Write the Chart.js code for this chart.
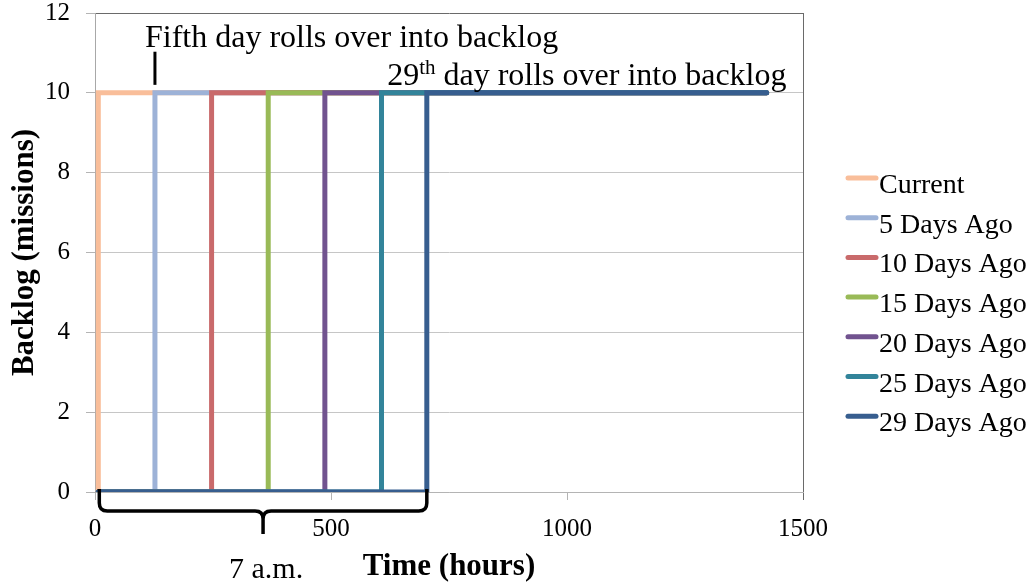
<!DOCTYPE html>
<html>
<head>
<meta charset="utf-8">
<script src="https://cdn.jsdelivr.net/npm/chart.js@4.4.1/dist/chart.umd.min.js"></script>
<style>
  html, body { margin: 0; padding: 0; background: #ffffff; }
  canvas { display: block; }
</style>
</head>
<body>
<canvas id="chart" width="1032" height="586"></canvas>
<script>
// Backlog of missions over time, one step curve per reporting day
const seriesNames = ['Current', '5 Days Ago', '10 Days Ago', '15 Days Ago', '20 Days Ago', '25 Days Ago', '29 Days Ago'];
const seriesColors = ['#F9BE9A', '#9DB2D7', '#C96A6B', '#99BA57', '#71538F', '#32849A', '#375E8F'];
// hour at which each curve steps up to the full backlog
const rolloverHours = [7, 127, 247, 367, 487, 607, 703];
const startHour = 7;
const endHour = 1423;
const backlogEmpty = 0;
const backlogFull = 10;
const xTicks = [0, 500, 1000, 1500];
const yTicks = [0, 2, 4, 6, 8, 10, 12];

const SERIF = '"Liberation Serif", "Times New Roman", serif';
Chart.defaults.font.family = SERIF;
Chart.defaults.color = '#000000';

const datasets = seriesNames.map((name, i) => ({
  label: name,
  data: [
    { x: startHour, y: backlogEmpty },
    { x: rolloverHours[i], y: backlogEmpty },
    { x: rolloverHours[i], y: backlogFull },
    { x: endHour, y: backlogFull }
  ],
  borderColor: seriesColors[i],
  backgroundColor: seriesColors[i],
  borderWidth: 5,
  borderCapStyle: 'round',
  borderJoinStyle: 'miter',
  pointRadius: 0,
  fill: false,
  tension: 0,
  order: seriesNames.length - 1 - i
}));

// Legend at the right: short line swatch followed by the series name
const sideLegend = {
  id: 'sideLegend',
  afterDraw(chart) {
    const ctx = chart.ctx;
    ctx.save();
    ctx.font = '28px ' + SERIF;
    ctx.textBaseline = 'alphabetic';
    ctx.textAlign = 'left';
    chart.data.datasets.forEach((ds, i) => {
      const y = 178 + i * 39.7;
      ctx.strokeStyle = ds.borderColor;
      ctx.lineWidth = 5;
      ctx.lineCap = 'round';
      ctx.beginPath();
      ctx.moveTo(848, y);
      ctx.lineTo(876, y);
      ctx.stroke();
      ctx.fillStyle = '#000';
      ctx.fillText(ds.label, 879, y + 15);
    });
    ctx.restore();
  }
};

// Notes on the plot: rollover callouts and the 7 a.m. brace
const notes = {
  id: 'notes',
  afterDraw(chart) {
    const ctx = chart.ctx;
    const xs = chart.scales.x, ys = chart.scales.y;
    ctx.save();
    ctx.fillStyle = '#000';
    ctx.strokeStyle = '#000';

    // fifth day callout
    const mx = xs.getPixelForValue(rolloverHours[1]);
    ctx.lineWidth = 3;
    ctx.lineCap = 'butt';
    ctx.beginPath();
    ctx.moveTo(mx, ys.getPixelForValue(10.2));
    ctx.lineTo(mx, ys.getPixelForValue(11.03));
    ctx.stroke();
    ctx.font = '32px ' + SERIF;
    ctx.textAlign = 'left';
    ctx.textBaseline = 'alphabetic';
    ctx.fillText('Fifth day rolls over into backlog', mx - 10, ys.getPixelForValue(11.15));

    // 29th day callout
    const base = ys.getPixelForValue(10.2);
    const bigFont = '32px ' + SERIF, supFont = '21px ' + SERIF;
    ctx.font = bigFont;
    const wNum = ctx.measureText('29').width;
    const wRest = ctx.measureText(' day rolls over into backlog').width;
    ctx.font = supFont;
    const wSup = ctx.measureText('th').width;
    let tx = xs.getPixelForValue(1042) - (wNum + wSup + wRest) / 2;
    ctx.font = bigFont;
    ctx.fillText('29', tx, base);
    tx += wNum;
    ctx.font = supFont;
    ctx.fillText('th', tx, base - 11);
    tx += wSup;
    ctx.font = bigFont;
    ctx.fillText(' day rolls over into backlog', tx, base);

    // brace under the first 29 days
    const xL = xs.getPixelForValue(startHour) + 1;
    const xR = xs.getPixelForValue(rolloverHours[6]);
    const xM = (xL + xR) / 2;
    const y0 = ys.getPixelForValue(0);
    const yb = y0 + 19, yTip = y0 + 42, r = 8;
    ctx.lineWidth = 3.5;
    ctx.lineJoin = 'round';
    ctx.lineCap = 'butt';
    ctx.beginPath();
    ctx.moveTo(xL, y0 - 3);
    ctx.lineTo(xL, yb - r);
    ctx.quadraticCurveTo(xL, yb, xL + r, yb);
    ctx.lineTo(xM - r, yb);
    ctx.quadraticCurveTo(xM, yb, xM, yb + r);
    ctx.lineTo(xM, yTip);
    ctx.moveTo(xM, yb + r);
    ctx.quadraticCurveTo(xM, yb, xM + r, yb);
    ctx.lineTo(xR - r, yb);
    ctx.quadraticCurveTo(xR, yb, xR, yb - r);
    ctx.lineTo(xR, y0 - 3);
    ctx.stroke();

    ctx.font = '30px ' + SERIF;
    ctx.textAlign = 'center';
    ctx.fillText('7 a.m.', xM + 3, 578);
    ctx.restore();
  }
};

new Chart(document.getElementById('chart'), {
  type: 'line',
  data: { datasets },
  plugins: [notes, sideLegend],
  options: {
    responsive: false,
    animation: false,
    devicePixelRatio: 1,
    layout: { padding: { top: 13, right: 229, left: 0, bottom: 0 } },
    plugins: { legend: { display: false }, tooltip: { enabled: false } },
    scales: {
      x: {
        type: 'linear',
        min: 0,
        max: 1500,
        afterBuildTicks: s => { s.ticks = xTicks.map(v => ({ value: v })); },
        afterFit: s => { s.height = 94; s.paddingLeft = 0; s.paddingRight = 0; },
        ticks: { font: { size: 25 }, color: '#000', padding: 14, maxRotation: 0, callback: v => String(v) },
        grid: {
          drawOnChartArea: true,
          color: c => (c.tick && c.tick.value === 1500) ? '#6a6a6a' : 'rgba(0,0,0,0)',
          tickColor: c => (c.tick && c.tick.value === 1500) ? '#6a6a6a' : '#b4b4b4',
          tickLength: 8,
          lineWidth: 1
        },
        border: { display: true, color: '#b4b4b4', width: 1 },
        title: {
          display: true,
          text: 'Time (hours)',
          font: { size: 31, weight: 'bold' },
          color: '#000',
          padding: 0
        }
      },
      y: {
        min: 0,
        max: 12,
        afterBuildTicks: s => { s.ticks = yTicks.map(v => ({ value: v })); },
        afterFit: s => { s.width = 95; s.paddingTop = 0; s.paddingBottom = 0; },
        ticks: { font: { size: 25 }, color: '#000', padding: 16, callback: v => String(v) },
        grid: {
          color: c => (c.tick && c.tick.value === 12) ? '#6a6a6a' : '#c6c6c6',
          tickColor: '#b4b4b4',
          tickLength: 9,
          lineWidth: 1
        },
        border: { display: true, color: '#a8a8a8', width: 1 },
        title: {
          display: true,
          text: 'Backlog (missions)',
          font: { size: 31, weight: 'bold' },
          color: '#000',
          padding: 6
        }
      }
    }
  }
});
</script>
</body>
</html>
